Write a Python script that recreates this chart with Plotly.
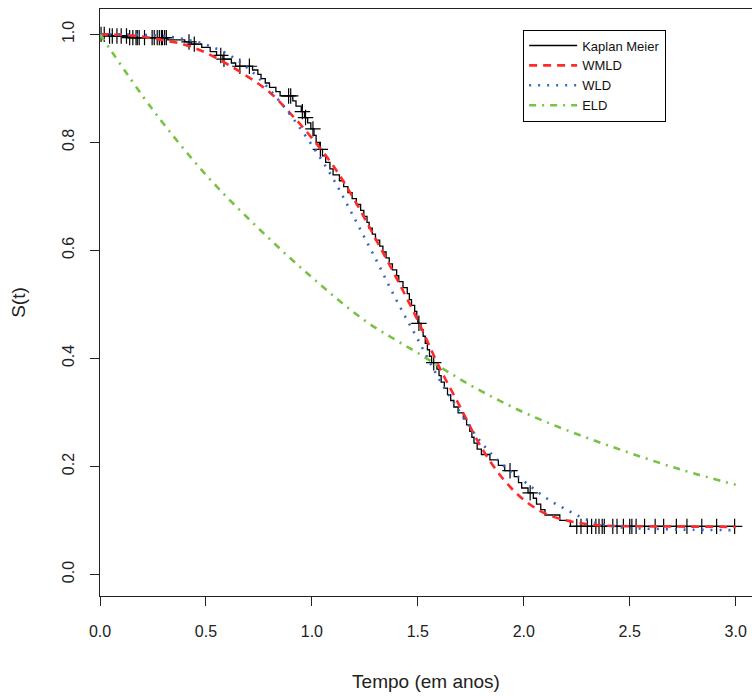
import numpy as np
import plotly.graph_objects as go

# ---------------- data ----------------
# Kaplan-Meier step function: times where the estimate drops and value after the drop
km_t = [0.0, 0.04, 0.13, 0.32, 0.40, 0.43, 0.48, 0.52, 0.55, 0.58, 0.62, 0.64, 0.72, 0.745,
        0.76, 0.78, 0.80, 0.83, 0.85, 0.91, 0.925, 0.95, 0.965, 0.98, 0.995, 1.01, 1.02,
        1.035, 1.05, 1.065, 1.085, 1.10, 1.13, 1.15, 1.17, 1.19, 1.21, 1.23, 1.245, 1.26,
        1.27, 1.285, 1.30, 1.32, 1.335, 1.35, 1.365, 1.38, 1.40, 1.41, 1.43, 1.45, 1.46,
        1.47, 1.485, 1.495, 1.50, 1.515, 1.525, 1.535, 1.545, 1.555, 1.565, 1.59, 1.60,
        1.61, 1.625, 1.64, 1.655, 1.67, 1.69, 1.715, 1.73, 1.745, 1.755, 1.765, 1.78, 1.80,
        1.84, 1.88, 1.91, 1.955, 1.975, 1.99, 2.02, 2.045, 2.06, 2.08, 2.10, 2.17, 2.22]
km_s = [1.0, 0.997, 0.994, 0.99, 0.986, 0.982, 0.976, 0.968, 0.961, 0.954, 0.947, 0.941,
        0.934, 0.926, 0.918, 0.91, 0.902, 0.894, 0.886, 0.877, 0.867, 0.857, 0.846, 0.836,
        0.825, 0.813, 0.80, 0.787, 0.775, 0.763, 0.751, 0.74, 0.729, 0.718, 0.707, 0.696,
        0.685, 0.674, 0.663, 0.652, 0.641, 0.63, 0.619, 0.608, 0.597, 0.586, 0.575, 0.564,
        0.553, 0.542, 0.531, 0.52, 0.509, 0.498, 0.487, 0.476, 0.465, 0.453, 0.441, 0.428,
        0.416, 0.404, 0.392, 0.38, 0.368, 0.356, 0.345, 0.333, 0.322, 0.31, 0.299, 0.288,
        0.277, 0.265, 0.254, 0.243, 0.232, 0.222, 0.212, 0.202, 0.192, 0.181, 0.17, 0.16,
        0.151, 0.141, 0.13, 0.12, 0.11, 0.10, 0.089]
km_end = 2.995

# censored observation times (+ marks)
cens_t = [0.005, 0.02, 0.045, 0.058, 0.08, 0.10, 0.125, 0.14, 0.155, 0.17, 0.176, 0.185,
          0.21, 0.246, 0.256, 0.27, 0.28, 0.29, 0.295, 0.305, 0.313, 0.42, 0.445, 0.57,
          0.585, 0.66, 0.705, 0.89, 0.90, 0.955, 0.97, 1.005, 1.04, 1.505, 1.575, 1.935,
          2.03, 2.25, 2.27, 2.30, 2.32, 2.34, 2.355, 2.37, 2.38, 2.42, 2.44, 2.47, 2.50,
          2.51, 2.53, 2.57, 2.62, 2.66, 2.72, 2.77, 2.84, 2.91, 2.995]

# fitted parametric survival curves
wmld_t = [0.0, 0.1, 0.2, 0.3, 0.4, 0.5, 0.6, 0.7, 0.8, 0.9, 1.0, 1.1, 1.2, 1.3, 1.4, 1.5,
          1.6, 1.7, 1.8, 1.9, 2.0, 2.1, 2.2, 2.3, 2.4, 2.6, 3.0]
wmld_s = [1.0, 0.999, 0.996, 0.989, 0.981, 0.966, 0.945, 0.921, 0.893, 0.853, 0.808, 0.757,
          0.694, 0.622, 0.548, 0.47, 0.385, 0.31, 0.235, 0.178, 0.138, 0.113, 0.10, 0.093,
          0.09, 0.089, 0.088]

wld_t = [0.0, 0.1, 0.2, 0.3, 0.4, 0.5, 0.6, 0.7, 0.8, 0.9, 1.0, 1.1, 1.2, 1.3, 1.4, 1.5,
         1.6, 1.7, 1.8, 1.9, 2.0, 2.1, 2.2, 2.3, 2.4, 2.5, 2.75, 3.0]
wld_s = [1.0, 1.0, 0.999, 0.997, 0.991, 0.981, 0.964, 0.937, 0.898, 0.85, 0.795, 0.733,
         0.66, 0.585, 0.507, 0.435, 0.362, 0.30, 0.244, 0.203, 0.173, 0.143, 0.12, 0.101,
         0.09, 0.086, 0.083, 0.082]

eld_t = [0.0, 0.25, 0.5, 0.75, 1.0, 1.25, 1.5, 1.75, 2.0, 2.25, 2.5, 2.75, 3.0]
eld_s = [1.0, 0.86, 0.74, 0.64, 0.55, 0.47, 0.41, 0.35, 0.30, 0.26, 0.225, 0.193, 0.166]

x_ticks = [0.0, 0.5, 1.0, 1.5, 2.0, 2.5, 3.0]
y_ticks = [0.0, 0.2, 0.4, 0.6, 0.8, 1.0]

# ---------------- figure ----------------
FONT = "Liberation Sans, Arial, sans-serif"

km_x = list(km_t) + [km_end]
km_y = list(km_s) + [km_s[-1]]
idx = np.searchsorted(np.array(km_t), np.array(cens_t), side="right") - 1
cens_s = np.array(km_s)[idx]

fig = go.Figure()
fig.add_trace(go.Scatter(x=km_x, y=km_y, mode="lines", line=dict(color="black", width=1.3, shape="hv"),
                         name="Kaplan Meier", legendrank=1))
fig.add_trace(go.Scatter(x=cens_t, y=cens_s, mode="markers", showlegend=False,
                         marker=dict(symbol="cross-thin", size=11, line=dict(color="black", width=1.2))))
fig.add_trace(go.Scatter(x=wmld_t, y=wmld_s, mode="lines", name="WMLD", legendrank=2,
                         line=dict(color="#FF2A2A", width=2.6, dash="8px,6px", shape="spline")))
fig.add_trace(go.Scatter(x=wld_t, y=wld_s, mode="lines", name="WLD", legendrank=3,
                         line=dict(color="#3565C8", width=2.6, dash="2px,7px", shape="spline")))
fig.add_trace(go.Scatter(x=eld_t, y=eld_s, mode="lines", name="ELD", legendrank=4,
                         line=dict(color="#78C244", width=2.6, dash="7px,6px,2px,6px", shape="spline")))

fig.update_layout(
    width=752, height=696,
    margin=dict(l=100, r=0, t=9, b=100),
    paper_bgcolor="white", plot_bgcolor="white",
    font=dict(family=FONT, size=16, color="#222"),
    showlegend=True,
    legend=dict(x=0.649, y=0.965, xanchor="left", yanchor="top",
                bordercolor="black", borderwidth=1, bgcolor="white",
                font=dict(family=FONT, size=13, color="#111"),
                tracegroupgap=0, itemwidth=48),
    xaxis=dict(range=[0, 3.077], tickvals=x_ticks, ticktext=[f"{v:.1f}" for v in x_ticks],
               showline=True, mirror=True, linecolor="#222", linewidth=1,
               ticks="outside", ticklen=9, tickcolor="#222", showgrid=False, zeroline=False,
               ticklabelstandoff=12,
               title=dict(text="Tempo (em anos)", standoff=35)),
    yaxis=dict(range=[-0.04, 1.047], tickvals=y_ticks, ticktext=[f"{v:.1f}" for v in y_ticks],
               showline=True, mirror=True, linecolor="#222", linewidth=1,
               ticks="outside", ticklen=9, tickcolor="#222", showgrid=False, zeroline=False,
               tickangle=-90, ticklabelstandoff=10,
               title=dict(text="S(t)", standoff=28)),
)

fig.write_html("out.html")
